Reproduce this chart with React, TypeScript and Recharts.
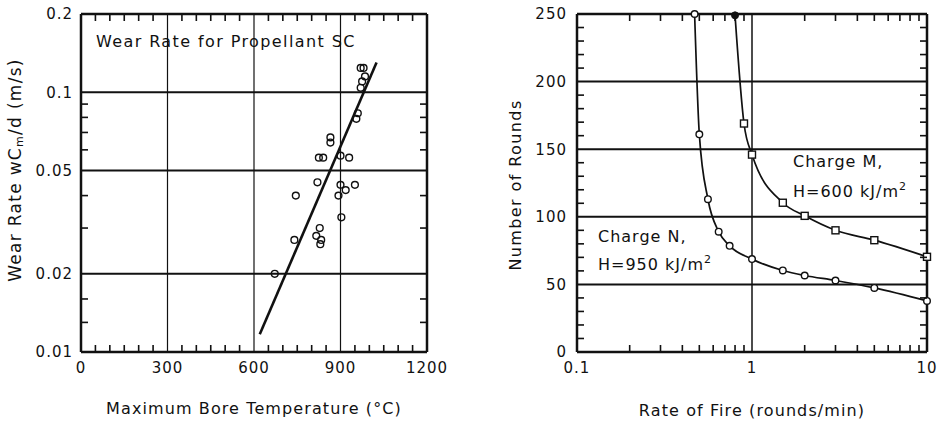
import { CartesianGrid, ComposedChart, Line, Scatter, XAxis, YAxis } from "recharts";

// left panel: wear rate vs max bore temperature
const boreTemp = [970, 980, 985, 975, 970, 960, 955, 865, 865, 825, 840, 900, 930, 820, 900, 950, 918, 893, 745, 903, 828, 816, 833, 830, 740, 672];
const wearRate = [0.124, 0.124, 0.115, 0.11, 0.104, 0.083, 0.079, 0.067, 0.064, 0.056, 0.056, 0.057, 0.056, 0.045, 0.044, 0.044, 0.042, 0.04, 0.04, 0.033, 0.03, 0.028, 0.027, 0.026, 0.027, 0.02];
const fitTemp = [620, 1025];
const fitRate = [0.0117, 0.13];

const tempTicks = [0, 300, 600, 900, 1200];
const tempMinor = [50, 100, 150, 200, 250, 350, 400, 450, 500, 550, 650, 700, 750, 800, 850, 950, 1000, 1050, 1100, 1150];
const rateTicks = [0.01, 0.02, 0.05, 0.1, 0.2];
const rateMinor = [0.013, 0.016, 0.03, 0.04, 0.06, 0.07, 0.08, 0.09];

// right panel: rounds vs rate of fire
const fireN = [0.47, 0.5, 0.56, 0.645, 0.745, 1, 1.5, 2, 3, 5, 10];
const roundsN = [250, 161, 113, 89, 78.5, 68.7, 60.3, 56.6, 52.9, 47.4, 37.8];
const fireM = [0.8, 0.9, 1, 1.5, 2, 3, 5, 10];
const roundsM = [249, 169, 146, 110.4, 100.7, 90, 82.7, 70.4];

const fireTicks = [0.1, 1, 10];
const fireMinor = [0.2, 0.3, 0.4, 0.5, 0.6, 0.7, 0.8, 0.9, 2, 3, 4, 5, 6, 7, 8, 9];
const roundTicks = [0, 50, 100, 150, 200, 250];
const roundMinor = [10, 20, 30, 40, 60, 70, 80, 90, 110, 120, 130, 140, 160, 170, 180, 190, 210, 220, 230, 240];

const wearData = boreTemp.map((t, i) => ({ t, w: wearRate[i] }));
const fitData = fitTemp.map((t, i) => ({ t, w: fitRate[i] }));
const nData = fireN.map((f, i) => ({ f, n: roundsN[i] }));
const mData = fireM.map((f, i) => ({ f, m: roundsM[i] }));

// minor tick anchors on the four plot edges
const tempEdgeLo = tempMinor.map((t) => ({ t, w: 0.01 }));
const tempEdgeHi = tempMinor.map((t) => ({ t, w: 0.2 }));
const rateEdgeLo = rateMinor.map((w) => ({ t: 0, w }));
const rateEdgeHi = rateMinor.map((w) => ({ t: 1200, w }));
const fireEdgeLo = fireMinor.map((f) => ({ f, n: 0 }));
const fireEdgeHi = fireMinor.map((f) => ({ f, n: 250 }));
const roundEdgeLo = roundMinor.map((n) => ({ f: 0.1, n }));
const roundEdgeHi = roundMinor.map((n) => ({ f: 10, n }));

const INK = "#111";
const FONT = "DejaVu Sans";
const tickStyle = { fontSize: 15, fill: INK, fontFamily: FONT, letterSpacing: 1 };
const labelStyle = { fontSize: 16, fill: INK, fontFamily: FONT, letterSpacing: 1.1 };
const frame = { stroke: INK, strokeWidth: 2.5 };

// short inward stub drawn as a thin rect (visible even at the frame)
const TICK = 7;
const tickMark = (dx: number, dy: number) => (p: any) => {
  if (p.cx == null || p.cy == null) return <g />;
  const w = dx !== 0 ? TICK : 1.6;
  const h = dy !== 0 ? TICK : 1.6;
  const x = dx < 0 ? p.cx - TICK : dx > 0 ? p.cx : p.cx - 0.8;
  const y = dy < 0 ? p.cy - TICK : dy > 0 ? p.cy : p.cy - 0.8;
  return <rect x={x} y={y} width={w} height={h} fill={INK} stroke="none" />;
};
const TickUp = tickMark(0, -1);
const TickDown = tickMark(0, 1);
const TickRight = tickMark(1, 0);
const TickLeft = tickMark(-1, 0);

const WearLabel = () => (
  <text transform="translate(15,170) rotate(-90)" textAnchor="middle" dominantBaseline="central" {...labelStyle} fontSize={17} letterSpacing={1.3}>
    Wear Rate wC
    <tspan dy={4} fontSize={11}>m</tspan>
    <tspan dy={-4}>/d (m/s)</tspan>
  </text>
);

const OpenCircle = (p: any) => (
  <circle cx={p.cx} cy={p.cy} r={3.4} fill="none" stroke={INK} strokeWidth={1.4} />
);

const DotN = (p: any) => (
  <circle key={p.index} cx={p.cx} cy={p.cy} r={3.3} fill="#fff" stroke={INK} strokeWidth={1.4} />
);

const DotM = (p: any) =>
  p.index === 0 ? (
    <circle key={p.index} cx={p.cx} cy={p.cy} r={3.5} fill={INK} stroke={INK} />
  ) : (
    <rect key={p.index} x={p.cx - 3.5} y={p.cy - 3.5} width={7} height={7} fill="#fff" stroke={INK} strokeWidth={1.4} />
  );

const note = (left: number, top: number, spacing = 1): React.CSSProperties => ({
  position: "absolute",
  left,
  top,
  fontFamily: FONT,
  fontSize: 16,
  letterSpacing: spacing,
  lineHeight: "18px",
  color: INK,
  whiteSpace: "nowrap",
});
const sup: React.CSSProperties = { fontSize: 11, verticalAlign: "7px", lineHeight: 0 };

export default function App() {
  return (
    <div style={{ position: "absolute", left: 0, top: 0, width: 939, height: 422, background: "#fff", overflow: "hidden" }}>
      <div style={{ position: "absolute", left: 0, top: 0 }}>
        <ComposedChart width={470} height={422} margin={{ top: 0, right: 0, bottom: 0, left: 0 }}>
          <CartesianGrid vertical={false} horizontalValues={rateTicks} stroke={INK} strokeWidth={2} />
          <CartesianGrid horizontal={false} verticalValues={tempTicks} stroke={INK} strokeWidth={1.2} />
          <XAxis
            dataKey="t"
            type="number"
            domain={[0, 1200]}
            ticks={tempTicks}
            interval={0}
            height={70}
            tickLine={false}
            tickSize={6}
            tickMargin={4}
            axisLine={frame}
            tick={tickStyle}
            label={{ value: "Maximum Bore Temperature (°C)", position: "insideBottom", offset: 8, style: labelStyle }}
          />
          <XAxis xAxisId="top" orientation="top" type="number" domain={[0, 1200]} ticks={tempTicks} height={14} tick={false} tickLine={false} axisLine={frame} />
          <YAxis
            dataKey="w"
            type="number"
            scale="log"
            domain={[0.01, 0.2]}
            ticks={rateTicks}
            interval={0}
            width={81}
            tickLine={false}
            tickSize={6}
            tickMargin={2}
            axisLine={frame}
            tick={tickStyle}
            label={{ content: () => <WearLabel /> }}
          />
          <YAxis yAxisId="right" orientation="right" type="number" scale="log" domain={[0.01, 0.2]} ticks={rateTicks} width={43} tick={false} tickLine={false} axisLine={frame} />
          <Scatter data={[]} dataKey="w" xAxisId="top" yAxisId="right" isAnimationActive={false} />
          <Line data={fitData} dataKey="w" type="linear" stroke={INK} strokeWidth={2.6} dot={false} isAnimationActive={false} />
          <Scatter data={wearData} dataKey="w" shape={OpenCircle} isAnimationActive={false} />
          <Scatter data={tempEdgeLo} dataKey="w" shape={TickUp} isAnimationActive={false} />
          <Scatter data={tempEdgeHi} dataKey="w" shape={TickDown} isAnimationActive={false} />
          <Scatter data={rateEdgeLo} dataKey="w" shape={TickRight} isAnimationActive={false} />
          <Scatter data={rateEdgeHi} dataKey="w" shape={TickLeft} isAnimationActive={false} />
        </ComposedChart>
        <div style={note(96, 33, 1.4)}>Wear Rate for Propellant SC</div>
      </div>

      <div style={{ position: "absolute", left: 470, top: 0 }}>
        <ComposedChart width={469} height={422} margin={{ top: 0, right: 0, bottom: 0, left: 0 }}>
          <CartesianGrid vertical={false} horizontalValues={roundTicks} stroke={INK} strokeWidth={2} />
          <CartesianGrid horizontal={false} verticalValues={fireTicks} stroke={INK} strokeWidth={1.5} />
          <XAxis
            dataKey="f"
            type="number"
            scale="log"
            domain={[0.1, 10]}
            ticks={fireTicks}
            interval={0}
            height={70}
            tickLine={false}
            tickSize={6}
            tickMargin={4}
            axisLine={frame}
            tick={tickStyle}
            label={{ value: "Rate of Fire (rounds/min)", position: "insideBottom", offset: 6, style: labelStyle }}
          />
          <XAxis xAxisId="top" orientation="top" type="number" scale="log" domain={[0.1, 10]} ticks={fireTicks} height={14} tick={false} tickLine={false} axisLine={frame} />
          <YAxis
            type="number"
            domain={[0, 250]}
            ticks={roundTicks}
            interval={0}
            width={107}
            tickLine={false}
            tickSize={6}
            tickMargin={4}
            axisLine={frame}
            tick={tickStyle}
            label={{ value: "Number of Rounds", angle: -90, position: "center", dx: -8, dy: 2, style: { ...labelStyle, letterSpacing: 1.4 } }}
          />
          <YAxis yAxisId="right" orientation="right" type="number" domain={[0, 250]} ticks={roundTicks} width={12} tick={false} tickLine={false} axisLine={frame} />
          <Scatter data={[]} dataKey="n" xAxisId="top" yAxisId="right" isAnimationActive={false} />
          <Line data={nData} dataKey="n" type="monotone" stroke={INK} strokeWidth={1.7} dot={DotN} isAnimationActive={false} />
          <Line data={mData} dataKey="m" type="monotone" stroke={INK} strokeWidth={1.7} dot={DotM} isAnimationActive={false} />
          <Scatter data={fireEdgeLo} dataKey="n" shape={TickUp} isAnimationActive={false} />
          <Scatter data={fireEdgeHi} dataKey="n" shape={TickDown} isAnimationActive={false} />
          <Scatter data={roundEdgeLo} dataKey="n" shape={TickRight} isAnimationActive={false} />
          <Scatter data={roundEdgeHi} dataKey="n" shape={TickLeft} isAnimationActive={false} />
        </ComposedChart>
        <div style={note(323, 153)}>Charge M,</div>
        <div style={note(323, 183)}>
          H=600 kJ/m<sup style={sup}>2</sup>
        </div>
        <div style={note(128, 228)}>Charge N,</div>
        <div style={note(128, 256)}>
          H=950 kJ/m<sup style={sup}>2</sup>
        </div>
      </div>
    </div>
  );
}
